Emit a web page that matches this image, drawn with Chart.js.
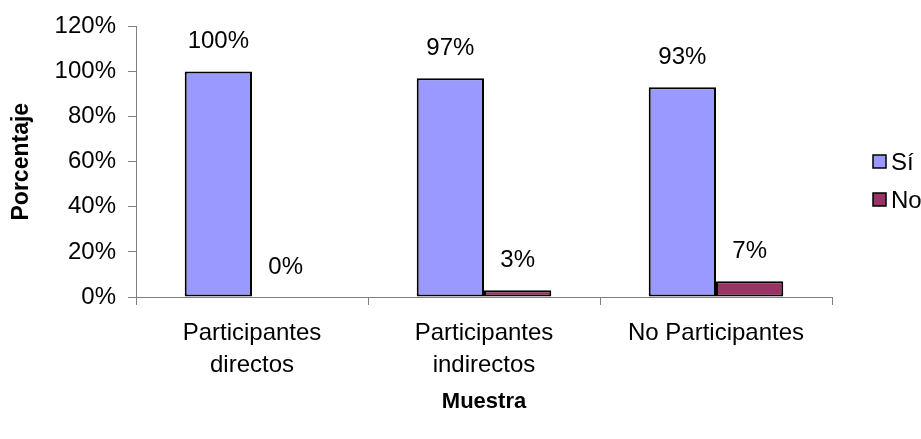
<!DOCTYPE html>
<html>
<head>
<meta charset="utf-8">
<title>Porcentaje por muestra</title>
<script src="https://cdn.jsdelivr.net/npm/chart.js@4/dist/chart.umd.min.js"></script>
<style>
  html, body { margin: 0; padding: 0; background: #ffffff; }
  #wrap { width: 921px; height: 439px; position: relative; }
</style>
</head>
<body>
<div id="wrap"><canvas id="muestraChart"></canvas></div>
<script>
const categories = [["Participantes", "directos"], ["Participantes", "indirectos"], "No Participantes"];
const seriesNames = ["Sí", "No"];
const siValues = [100, 97, 93];
const noValues = [0, 3, 7];
const yTicks = [0, 20, 40, 60, 80, 100, 120];

const FONT = "'Liberation Sans', Arial, sans-serif";
const colors = ["#9999ff", "#993366"];
const axisGray = "#808080";

// value labels above each bar + legend box at the right
const barLabels = {
  id: "barLabels",
  afterDatasetsDraw(chart) {
    const ctx = chart.ctx;
    ctx.save();
    ctx.fillStyle = "#000";
    ctx.font = "24px " + FONT;
    ctx.textAlign = "center";
    ctx.textBaseline = "middle";
    chart.data.datasets.forEach((ds, i) => {
      chart.getDatasetMeta(i).data.forEach((bar, j) => {
        ctx.fillText(ds.data[j] + "%", bar.x, bar.y - 30);
      });
    });

    // legend
    const lx = 873, rows = [162, 200];
    ctx.textAlign = "left";
    chart.data.datasets.forEach((ds, i) => {
      const cy = rows[i];
      ctx.fillStyle = ds.backgroundColor;
      ctx.fillRect(lx, cy - 7, 13, 13);
      ctx.lineWidth = 1.5;
      ctx.strokeStyle = "#000";
      ctx.strokeRect(lx, cy - 7, 13, 13);
      ctx.fillStyle = "#000";
      ctx.fillText(ds.label, lx + 18, cy + 1);
    });
    ctx.restore();
  }
};

new Chart(document.getElementById("muestraChart"), {
  type: "bar",
  data: {
    labels: categories,
    datasets: [
      { label: seriesNames[0], data: siValues, backgroundColor: colors[0], borderColor: "#000", borderWidth: 2, borderSkipped: false },
      { label: seriesNames[1], data: noValues, backgroundColor: colors[1], borderColor: "#000", borderWidth: 2, borderSkipped: false }
    ]
  },
  options: {
    responsive: true,
    maintainAspectRatio: false,
    animation: false,
    layout: { padding: { top: 21, right: 89, left: 0, bottom: 0 } },
    datasets: {
      bar: { categoryPercentage: 0.58, barPercentage: 1.0 }
    },
    plugins: {
      legend: { display: false },
      tooltip: { enabled: false }
    },
    scales: {
      x: {
        grid: { drawOnChartArea: false, color: axisGray, tickLength: 8, offset: true },
        border: { color: axisGray, width: 1 },
        ticks: { color: "#000", font: { family: FONT, size: 24, lineHeight: 1.33 }, padding: 12, maxRotation: 0 },
        title: { display: true, text: "Muestra", color: "#000", font: { family: FONT, size: 22, weight: "bold" }, padding: { top: 0, bottom: 24 } },
        afterFit(scale) { scale.height = 142; }
      },
      y: {
        min: 0,
        max: 120,
        afterBuildTicks(scale) { scale.ticks = yTicks.map(v => ({ value: v })); },
        grid: { drawOnChartArea: false, color: axisGray, tickLength: 8 },
        border: { color: axisGray, width: 1 },
        ticks: { color: "#000", font: { family: FONT, size: 24 }, padding: 12, callback: v => v + "%" },
        title: { display: true, text: "Porcentaje", color: "#000", font: { family: FONT, size: 23, weight: "bold" }, padding: { top: 8, bottom: 0 } },
        afterFit(scale) { scale.width = 136; }
      }
    }
  },
  plugins: [barLabels]
});
</script>
</body>
</html>
